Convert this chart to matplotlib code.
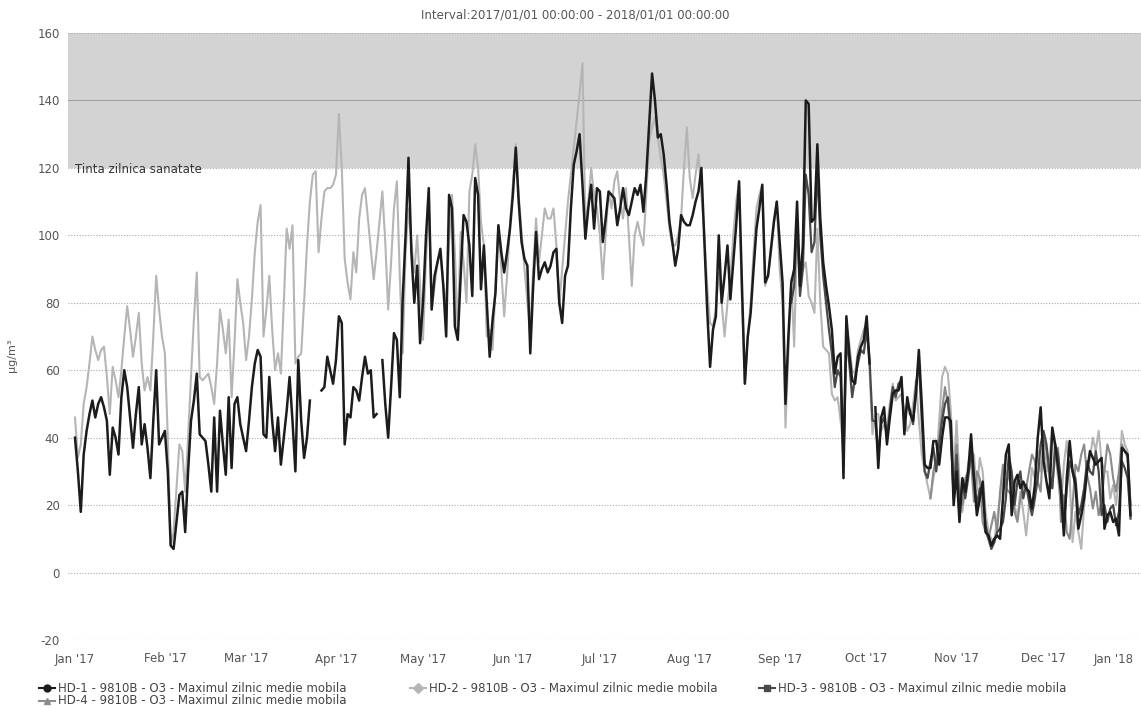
import numpy as np
import pandas as pd
import matplotlib
matplotlib.use('Agg')
import matplotlib.pyplot as plt
import matplotlib.dates as mdates
from matplotlib.lines import Line2D

nan = np.nan

# daily maximum of the 8h moving average, O3, ug/m3
hd1 = [
    40, 30, 18, 35, 42, 47, 51, 46, 50, 52, 49, 45, 29, 43, 40, 35, 52, 60, 55, 46,
    37, 47, 55, 38, 44, 37, 28, 45, 60, 38,
    40, 42, 30, 8, 7, 15, 23, 24, 12, 30, 45, 51, 59, 41, 40, 39, 32, 24, 46, 24,
    48, 38, 29, 52, 31, 50, 52, 44,
    40, 36, 45, 55, 62, 66, 64, 41, 40, 58, 45, 36, 46, 32, 40, 48, 58, 45, 30, 63,
    45, 34, 40, 51, nan, nan, nan, 54, 55, 64,
    60, 56, 63, 76, 74, 38, 47, 46, 55, 54, 51, 58, 64, 59, 60, 46, 47, nan, 63, 50,
    40, 55, 71, 69, 52, 81, 100, 123, 95,
    80, 91, 68, 80, 99, 114, 78, 88, 92, 96, 85, 70, 112, 108, 73, 69, 88, 106, 104, 97,
    82, 117, 112, 84, 97, 80, 64, 75, 83, 103,
    95, 89, 95, 102, 112, 126, 110, 98, 93, 91, 65, 85, 101, 87, 90, 92, 89, 91, 95, 96,
    80, 74, 88, 91, 108, 121, 125, 130, 115, 99,
    108, 115, 102, 114, 113, 98, 105, 113, 112, 111, 103, 108, 114, 108, 106, 110, 114, 112, 115, 107,
    118, 133, 148, 140, 129, 130, 124, 115, 104, 98,
    91, 96, 106, 104, 103, 103, 106, 110, 113, 120, 99, 78, 61, 72, 76, 100, 80, 88, 97, 81,
    92, 103, 116, 85, 56, 70, 77, 90, 102, 108,
    115, 86, 88, 96, 104, 110, 98, 86, 50, 70, 86, 90, 110, 85, 97, 140, 139, 104, 105, 127,
    105, 92, 85, 79, 72, 59, 64, 65, 28,
    76, 65, 57, 56, 64, 67, 69, 76, 62, nan, 49, 31, 46, 49, 38, 46, 53, 54, 54, 58,
    41, 52, 47, 45, 53, 66, 50, 32, 31, 31, 39,
    39, 32, 40, 46, 46, 45, 20, 30, 15, 28, 24, 30, 41, 28, 17, 22, 27, 12, 11, 8,
    10, 11, 10, 22, 35, 38, 17, 27, 29, 25, 27, 25, 24, 19, 26, 40, 49, 33, 27, 22,
    43, 38, 31, 24, 11, 28, 39, 30, 26, 13, 17, 22, 30, 36, 34, 32, 33, 34, 13, 17,
    18, 15, 16, 11, 37, 36, 35, 17,
]

hd2 = [
    46, 34, 38, 50, 55, 62, 70, 66, 63, 66, 67, 58, 47, 61, 57, 52, 60, 70, 79, 72,
    64, 70, 77, 62, 54, 58, 54, 70, 88, 78,
    70, 65, 40, 8, 12, 25, 38, 36, 24, 40, 58, 75, 89, 58, 57, 58, 59, 55, 50, 62,
    78, 72, 65, 75, 52, 68, 87, 80,
    74, 63, 70, 81, 95, 104, 109, 70, 78, 88, 72, 60, 65, 59, 80, 102, 96, 103, 62, 64,
    65, 80, 97, 110, 118, 119, 95, 105, 113, 114,
    114, 115, 118, 136, 120, 93, 86, 81, 95, 89, 105, 112, 114, 105, 96, 87, 95, 104, 113, 98,
    78, 92, 108, 116, 88, 65, 95, 108, 98,
    89, 100, 85, 69, 92, 110, 78, 85, 92, 95, 86, 79, 98, 112, 95, 71, 101, 92, 80, 113,
    118, 127, 120, 104, 97, 70, 72, 66, 85, 103,
    90, 76, 88, 103, 115, 127, 112, 101, 90, 80, 71, 90, 105, 92, 100, 108, 105, 105, 108, 97,
    79, 90, 100, 110, 118, 126, 134, 142, 151, 103,
    110, 120, 112, 108, 100, 87, 100, 113, 108, 116, 119, 110, 105, 114, 100, 85, 100, 104, 100, 97,
    112, 128, 132, 135, 129, 123, 118, 110, 102, 97,
    97, 100, 105, 120, 132, 117, 111, 118, 124, 112, 101, 85, 74, 73, 78, 89, 80, 70, 80, 87,
    100, 110, 116, 80, 56, 70, 80, 95, 108, 112,
    115, 85, 88, 95, 103, 110, 90, 80, 43, 65, 87, 67, 100, 87, 90, 92, 82, 80, 77, 102,
    80, 67, 66, 65, 53, 51, 52, 45, 37,
    73, 68, 60, 59, 66, 69, 72, 74, 60, 41, 47, 47, 42, 44, 43, 50, 56, 51, 52, 53,
    47, 42, 44, 50, 57, 45, 35, 30, 26, 22, 28,
    32, 45, 58, 61, 59, 48, 30, 45, 27, 18, 25, 32, 36, 35, 24, 34, 30, 18, 12, 10,
    9, 16, 22, 28, 30, 28, 26, 20, 16, 24, 18, 11, 20, 31, 28, 36, 30, 38, 30, 34,
    42, 36, 28, 20, 32, 39, 28, 9, 18, 12, 7, 20, 30, 34, 40, 36, 42, 33, 30, 30,
    22, 26, 20, 28, 42, 38, 36, 20,
]

hd3_start = '2017-09-05'
hd3 = [
    80, 85, 105, 82, 90, 118, 112, 95, 98, 120, 100, 88, 80, 72, 65, 55, 60, 58, 32,
    70, 62, 52, 58, 62, 66, 65, 72, 63, 45, 45, 35, 44, 46, 40, 48, 55, 52, 56, 57,
    44, 50, 48, 44, 55, 63, 45, 30, 28, 33, 37,
    30, 38, 45, 50, 52, 42, 22, 35, 20, 26, 22, 28, 36, 28, 20, 25, 23, 14, 10, 7,
    9, 12, 13, 15, 22, 35, 30, 20, 27, 30, 22, 26, 21, 17, 22, 28, 38, 42, 38, 30,
    25, 38, 35, 27, 14, 25, 33, 30, 28, 17, 20, 25, 33, 30, 29, 36, 30, 17, 20, 15,
    19, 20, 14, 18, 33, 31, 28, 16,
]

hd4_start = '2017-10-23'
hd4 = [
    22, 30,
    34, 40, 48, 55, 50, 40, 25, 38, 22, 20, 28, 30, 33, 21, 30, 28, 15, 12, 10, 14,
    18, 12, 24, 32, 25, 24, 23, 18, 15, 22, 26, 25, 30, 35, 33, 27, 24, 40, 36, 28,
    25, 35, 37, 15, 23, 12, 10, 20, 32, 30, 35, 38, 29, 25, 19, 24, 17, 21, 30, 38,
    35, 28, 24, 30, 38, 36, 34, 20,
]

series_names = [
    'HD-1 - 9810B - O3 - Maximul zilnic medie mobila',
    'HD-2 - 9810B - O3 - Maximul zilnic medie mobila',
    'HD-3 - 9810B - O3 - Maximul zilnic medie mobila',
    'HD-4 - 9810B - O3 - Maximul zilnic medie mobila',
]
series_colors = ['#1c1c1c', '#b5b5b5', '#4a4a4a', '#8c8c8c']
series_markers = ['o', 'D', 's', '^']

target_low, target_high = 120, 160

plt.rcParams['font.family'] = ['DejaVu Sans']
plt.rcParams['axes.unicode_minus'] = False

s1 = pd.Series(hd1, index=pd.date_range('2017-01-01', periods=len(hd1)))
s2 = pd.Series(hd2, index=pd.date_range('2017-01-01', periods=len(hd2)))
s3 = pd.Series(hd3, index=pd.date_range(hd3_start, periods=len(hd3)))
s4 = pd.Series(hd4, index=pd.date_range(hd4_start, periods=len(hd4)))

fig = plt.figure(figsize=(11.41, 7.09), dpi=100)
ax = fig.add_axes([68 / 1141, 1 - 640 / 709, 1 - 68 / 1141, (640 - 33) / 709])

# target band
ax.axhspan(target_low, target_high, color='#d3d3d3', lw=0, zorder=0)
ax.text(mdates.date2num(pd.Timestamp('2017-01-01')), 119.4, 'Tinta zilnica sanatate',
        fontsize=8.5, color='#333333', va='center', ha='left', zorder=5)

for yv in range(-20, 161, 20):
    if yv == 140:
        ax.axhline(yv, color='#a0a0a0', lw=0.8, zorder=1)
    else:
        ax.axhline(yv, color='#a8a8a8', lw=0.8, ls=(0, (1, 1.5)), zorder=1)

ax.plot(s2.index, s2.values, color=series_colors[1], lw=1.5, zorder=2)
ax.plot(s4.index, s4.values, color=series_colors[3], lw=1.5, zorder=3)
ax.plot(s3.index, s3.values, color=series_colors[2], lw=1.6, zorder=4)
ax.plot(s1.index, s1.values, color=series_colors[0], lw=1.8, zorder=4)

base = pd.Timestamp('2017-01-01')
ax.set_xlim(mdates.date2num(base - pd.Timedelta(days=2.41)),
            mdates.date2num(base + pd.Timedelta(days=367.6)))
ax.set_ylim(-20, 160)

months = pd.date_range('2017-01-01', '2018-01-01', freq='MS')
ax.set_xticks(mdates.date2num(months))
ax.set_xticklabels([m.strftime("%b '%y") for m in months])
ax.set_yticks(range(-20, 161, 20))
ax.tick_params(axis='both', length=0, labelsize=8.5, colors='#555555')
ax.tick_params(axis='x', pad=9)
ax.tick_params(axis='y', pad=6)
ax.get_xticklabels()[-1].set_horizontalalignment('right')
for sp in ax.spines.values():
    sp.set_visible(False)

fig.text(575 / 1141, 1 - 15 / 709, 'Interval:2017/01/01 00:00:00 - 2018/01/01 00:00:00',
         ha='center', va='center', fontsize=8.5, color='#555555')
fig.text(12 / 1141, 1 - 355 / 709, 'µg/m³', rotation=90, ha='center', va='center',
         fontsize=8, color='#555555')

# legend, laid out like the original
legend_pos = [(47, 688), (418, 688), (767, 688), (47, 701)]
for (px, py), name, col, mk in zip(legend_pos, series_names, series_colors, series_markers):
    fx, fy = px / 1141, 1 - py / 709
    fig.add_artist(Line2D([fx - 8 / 1141, fx + 8 / 1141], [fy, fy], color=col, lw=1.5,
                          transform=fig.transFigure))
    fig.add_artist(Line2D([fx], [fy], marker=mk, markersize=5, color=col,
                          transform=fig.transFigure))
    fig.text(fx + 11 / 1141, fy, name, ha='left', va='center', fontsize=8.5, color='#444444')

fig.savefig('out.png', dpi=100)
